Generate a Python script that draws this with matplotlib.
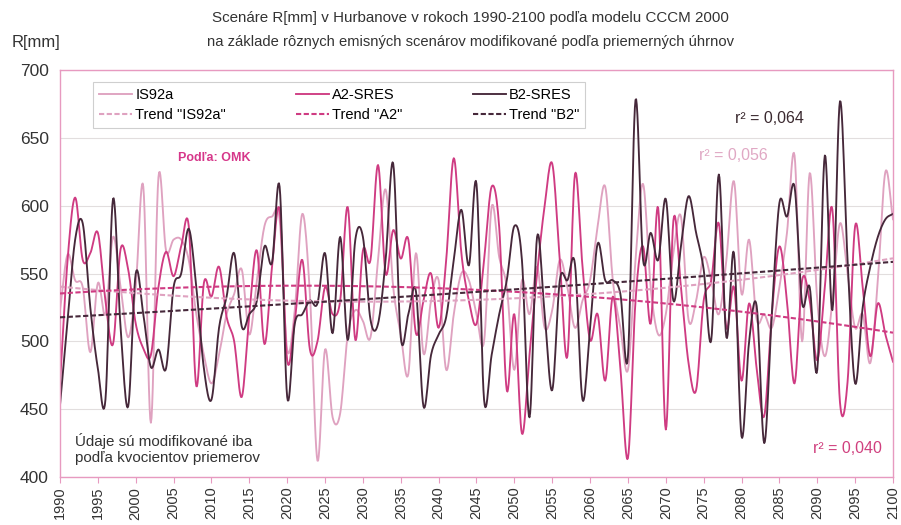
import numpy as np
import matplotlib.pyplot as plt

plt.rcParams['font.family'] = ['Liberation Sans', 'DejaVu Sans']

# yearly values (1990..2100)
years = np.arange(1990, 2101)

is92a = [523, 564, 545, 540, 492, 543, 520, 577, 540, 503,
         540, 614, 440, 621, 567, 575, 575, 560, 520, 490,
         469, 490, 520, 535, 553, 505, 545, 585, 592, 590,
         494, 523, 594, 535, 412, 494, 444, 447, 505, 523,
         515, 503, 560, 612, 540, 505, 476, 565, 491, 530,
         545, 479, 520, 550, 545, 520, 500, 599, 562, 540,
         479, 545, 520, 555, 510, 523, 560, 540, 510, 530,
         545, 585, 614, 545, 510, 479, 560, 616, 540, 505,
         520, 565, 592, 516, 530, 562, 545, 520, 560, 618,
         535, 575, 516, 520, 510, 540, 580, 637, 500, 624,
         530, 489, 530, 587, 550, 510, 520, 484, 545, 625, 590]

a2_sres = [469, 560, 606, 560, 565, 580, 530, 498, 568, 553,
           513, 495, 490, 540, 566, 548, 570, 585, 467, 543,
           533, 555, 518, 500, 459, 520, 567, 498, 555, 597,
           486, 515, 560, 494, 500, 540, 520, 530, 599, 501,
           567, 560, 630, 550, 582, 561, 575, 506, 530, 550,
           510, 560, 635, 565, 530, 513, 560, 614, 584, 464,
           520, 432, 490, 550, 600, 631, 560, 489, 623, 555,
           501, 520, 471, 533, 480, 414, 530, 570, 513, 598,
           435, 589, 540, 484, 464, 530, 545, 587, 510, 540,
           471, 528, 480, 445, 520, 570, 530, 469, 545, 530,
           486, 540, 597, 455, 470, 585, 540, 489, 528, 505, 485]

b2_sres = [453, 515, 575, 587, 525, 480, 457, 605, 510, 452,
           550, 520, 481, 494, 480, 540, 550, 583, 540, 480,
           457, 510, 533, 565, 511, 520, 530, 570, 558, 614,
           459, 513, 520, 530, 528, 565, 506, 577, 501, 575,
           577, 516, 513, 560, 631, 503, 520, 537, 452, 490,
           505, 518, 560, 597, 556, 616, 457, 490, 520, 545,
           585, 560, 444, 577, 520, 464, 545, 545, 557, 457,
           510, 572, 545, 545, 535, 489, 678, 560, 580, 560,
           605, 530, 570, 607, 580, 553, 501, 623, 503, 565,
           430, 500, 526, 425, 520, 602, 592, 614, 528, 540,
           479, 637, 523, 677, 560, 469, 525, 555, 577, 590, 594]

series_labels = ['IS92a', 'A2-SRES', 'B2-SRES']
trend_labels = ['Trend "IS92a"', 'Trend "A2"', 'Trend "B2"']
r2_texts = ['r² = 0,056', 'r² = 0,040', 'r² = 0,064']

c_is = '#dfa2c0'
c_a2 = '#cf3b82'
c_b2 = '#46283a'


def smooth(x, y, n=12):
    # catmull-rom, roughly what the "smoothed line" option draws
    x = np.asarray(x, float)
    y = np.asarray(y, float)
    yp = np.concatenate([[2 * y[0] - y[1]], y, [2 * y[-1] - y[-2]]])
    t = np.linspace(0, 1, n, endpoint=False)[:, None]
    p0, p1, p2, p3 = yp[:-3], yp[1:-2], yp[2:-1], yp[3:]
    ys = 0.5 * (2 * p1 + (p2 - p0) * t + (2 * p0 - 5 * p1 + 4 * p2 - p3) * t ** 2
                + (3 * p1 - p0 - 3 * p2 + p3) * t ** 3)
    xs = x[:-1] + t * (x[1:] - x[:-1])
    return np.append(xs.T.ravel(), x[-1]), np.append(ys.T.ravel(), y[-1])


fig = plt.figure(figsize=(9.01, 5.25), dpi=100)
ax = fig.add_axes([0.0666, 0.0914, 0.9245, 0.7752])

handles = []
for vals, col, lab in zip([is92a, a2_sres, b2_sres], [c_is, c_a2, c_b2], series_labels):
    xs, ys = smooth(years, vals)
    h, = ax.plot(xs, ys, color=col, lw=1.35, label=lab, zorder=2)
    handles.append(h)
for vals, col, tlab in zip([is92a, a2_sres, b2_sres], [c_is, c_a2, c_b2], trend_labels):
    coef = np.polyfit(years - 1990, vals, 2)
    t, = ax.plot(years, np.polyval(coef, years - 1990), color=col, lw=1.5,
                 ls=(0, (2.5, 1.2)), label=tlab, zorder=3)
    handles.append(t)

ax.set_xlim(1990, 2100)
ax.set_ylim(400, 700)
ax.set_yticks(range(400, 701, 50))
ax.set_xticks(range(1990, 2101, 5))
ax.tick_params(axis='y', length=0, pad=8, labelsize=12.5, labelcolor='#333333')
ax.tick_params(axis='x', length=4, pad=3, labelsize=10.5, labelcolor='#333333',
               color='#e79ac0', rotation=90)
ax.grid(axis='y', color='#e2dede', lw=0.8)
ax.set_axisbelow(True)
for s in ax.spines.values():
    s.set_color('#e79ac0')
    s.set_linewidth(1.0)

order = [handles[0], handles[3], handles[1], handles[4], handles[2], handles[5]]
leg = ax.legend(handles=order, ncol=3, loc='upper left', mode='expand',
                bbox_to_anchor=(0.0396, 0.853, 0.591, 0.118), borderaxespad=0,
                fontsize=10.5, handlelength=2.3, handletextpad=0.2,
                labelspacing=0.45, borderpad=0.4, fancybox=False,
                framealpha=1, edgecolor='#cfcfcf')
leg.get_frame().set_linewidth(0.8)
leg.set_zorder(5)

ax.text(0.142, 0.784, 'Podľa: OMK', transform=ax.transAxes, fontsize=9,
        fontweight='bold', color='#d6378a', va='center')
ax.text(0.810, 0.880, r2_texts[2], transform=ax.transAxes, fontsize=11.5,
        color='#3b2a30', va='center')
ax.text(0.767, 0.789, r2_texts[0], transform=ax.transAxes, fontsize=11.5,
        color='#e0a8c4', va='center')
ax.text(0.904, 0.071, r2_texts[1], transform=ax.transAxes, fontsize=11.5,
        color='#d0407f', va='center')
ax.text(0.018, 0.069, 'Údaje sú modifikované iba\npodľa kvocientov priemerov',
        transform=ax.transAxes, fontsize=10.9, color='#333333', va='center',
        linespacing=1.2)

fig.text(0.522, 0.966, 'Scenáre R[mm] v Hurbanove v rokoch 1990-2100 podľa modelu CCCM 2000',
         ha='center', va='center', fontsize=10.9, color='#333333')
fig.text(0.522, 0.920, 'na základe rôznych emisných scenárov modifikované podľa priemerných úhrnov',
         ha='center', va='center', fontsize=10.6, color='#333333')
fig.text(0.013, 0.920, 'R[mm]', ha='left', va='center', fontsize=12, color='#333333')

fig.savefig('out.png', dpi=100)
